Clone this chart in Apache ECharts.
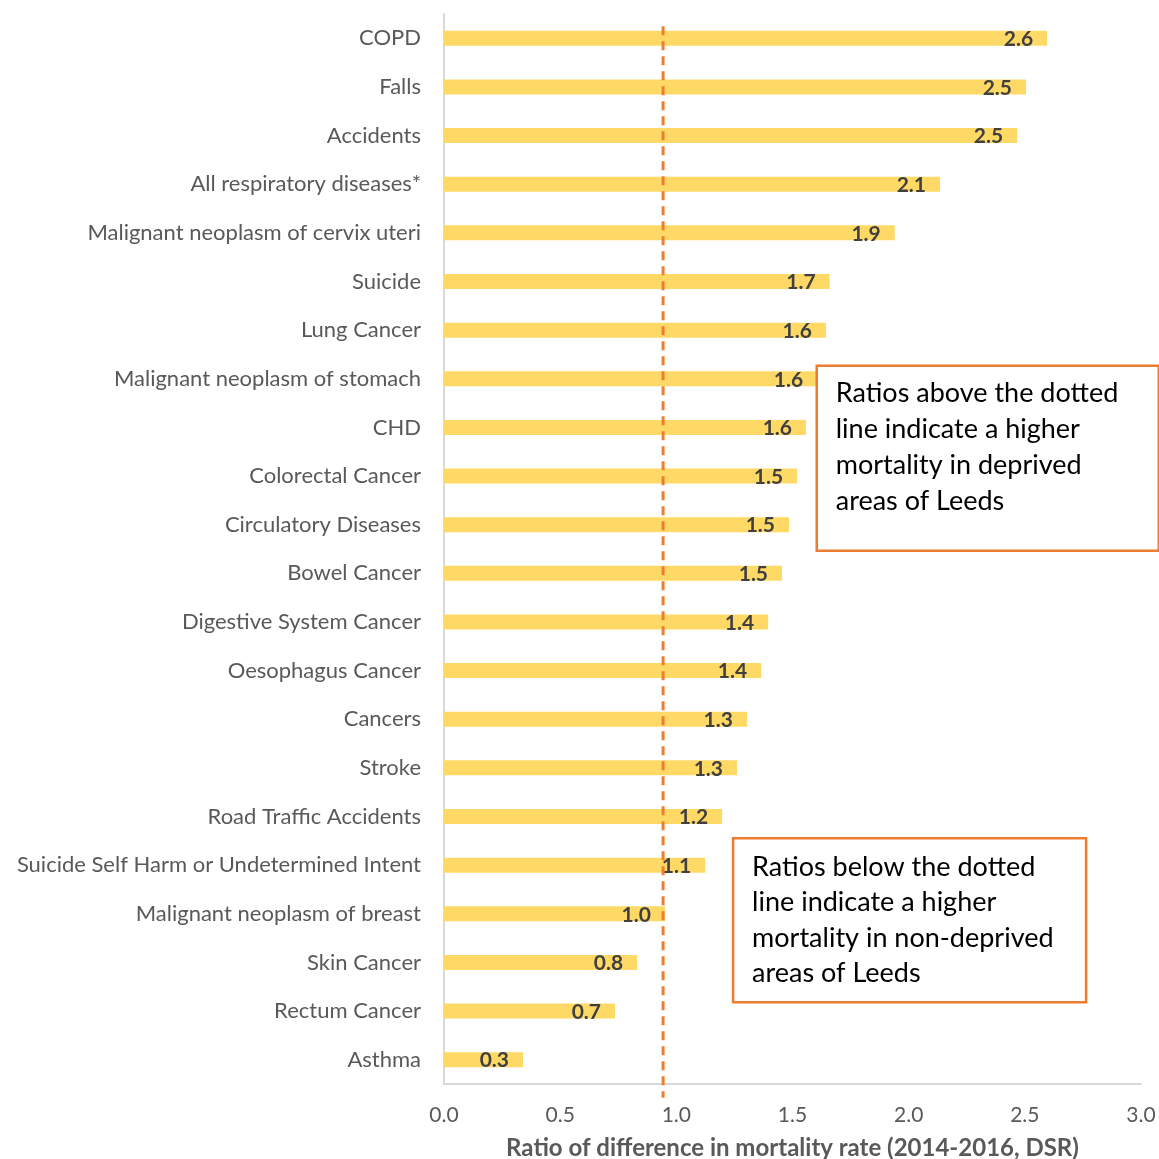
<!DOCTYPE html>
<html>
<head>
<meta charset="utf-8">
<script src="https://cdn.jsdelivr.net/npm/echarts@6/dist/echarts.min.js"></script>
<style>html,body{margin:0;padding:0;background:#fff}#c{width:1159px;height:1159px}</style>
</head>
<body>
<div id="c"></div>
<script>
const categories = ["COPD","Falls","Accidents","All respiratory diseases*","Malignant neoplasm of cervix uteri","Suicide","Lung Cancer","Malignant neoplasm of stomach","CHD","Colorectal Cancer","Circulatory Diseases","Bowel Cancer","Digestive System Cancer","Oesophagus Cancer","Cancers","Stroke","Road Traffic Accidents","Suicide Self Harm or Undetermined Intent","Malignant neoplasm of breast","Skin Cancer","Rectum Cancer","Asthma"];
const ratios = [2.596,2.505,2.467,2.135,1.94,1.66,1.644,1.606,1.558,1.52,1.485,1.455,1.395,1.365,1.304,1.261,1.197,1.124,0.951,0.831,0.736,0.34];
const xTicks = [0.0,0.5,1.0,1.5,2.0,2.5,3.0];
const refValue = 0.943;
const axisTitle = "Ratio of difference in mortality rate (2014-2016, DSR)";
const noteAbove = "Ratios above the dotted\nline indicate a higher\nmortality in deprived\nareas of Leeds";
const noteBelow = "Ratios below the dotted\nline indicate a higher\nmortality in non-deprived\nareas of Leeds";

const FONT = "Lato";
const chart = echarts.init(document.getElementById('c'));
chart.setOption({
  animation: false,
  textStyle: { fontFamily: FONT },
  grid: { left: 444, right: 18, top: 14, bottom: 75, containLabel: false, outerBoundsMode: 'none' },
  xAxis: {
    type: 'value', min: xTicks[0], max: xTicks[xTicks.length-1], interval: 0.5,
    axisLine: { show: true, lineStyle: { color: '#d9d9d9', width: 2 } },
    axisTick: { show: false },
    splitLine: { show: false },
    axisLabel: { color: '#595959', fontSize: 21, margin: 21, formatter: v => v.toFixed(1) },
    name: axisTitle, nameLocation: 'middle', nameGap: 52,
    nameTextStyle: { color: '#595959', fontSize: 24, fontWeight: 'bold', fontFamily: FONT }
  },
  yAxis: {
    type: 'category', data: categories, inverse: true,
    axisLine: { show: true, lineStyle: { color: '#d9d9d9', width: 2 } },
    axisTick: { show: false },
    axisLabel: { color: '#595959', fontSize: 22, margin: 23 }
  },
  series: [{
    type: 'bar', data: ratios, barWidth: 15,
    itemStyle: { color: '#FFD966' },
    label: { show: true, position: 'insideRight', distance: 14, offset: [0, 1], color: '#404040', fontSize: 21, fontWeight: 'bold', fontFamily: FONT, formatter: p => p.value.toFixed(1) }
  }]
});

function drawOverlay() {
  const x = chart.convertToPixel({ xAxisIndex: 0 }, refValue);
  const yTop = chart.convertToPixel({ yAxisIndex: 0 }, categories[0]);
  const yBot = chart.convertToPixel({ yAxisIndex: 0 }, categories[categories.length-1]);
  const x15 = chart.convertToPixel({ xAxisIndex: 0 }, 1.6);
  const x12 = chart.convertToPixel({ xAxisIndex: 0 }, 1.24);
  const yA = chart.convertToPixel({ yAxisIndex: 0 }, categories[7]);
  const yB = chart.convertToPixel({ yAxisIndex: 0 }, categories[17]);
  chart.setOption({
    graphic: [
      { type: 'line', z: 100, shape: { x1: x, y1: yTop - 12, x2: x, y2: yBot + 38 },
        style: { stroke: '#ED7D31', lineWidth: 3, lineDash: [9, 6] } },
      { type: 'rect', z: 100, shape: { x: x15 + 1, y: yA - 13, width: 342, height: 185 },
        style: { fill: '#fff', stroke: '#ED7D31', lineWidth: 2.5 } },
      { type: 'text', z: 101, x: x15 + 20, y: yA - 3, style: { text: noteAbove, fill: '#000', font: '27px ' + FONT, lineHeight: 36, verticalAlign: 'top' } },
      { type: 'rect', z: 100, shape: { x: x12 + 1, y: yB - 27, width: 353, height: 164 },
        style: { fill: '#fff', stroke: '#ED7D31', lineWidth: 2.5 } },
      { type: 'text', z: 101, x: x12 + 20, y: yB - 16, style: { text: noteBelow, fill: '#000', font: '27px ' + FONT, lineHeight: 35.5, verticalAlign: 'top' } }
    ]
  });
}
drawOverlay();
</script>
</body>
</html>
